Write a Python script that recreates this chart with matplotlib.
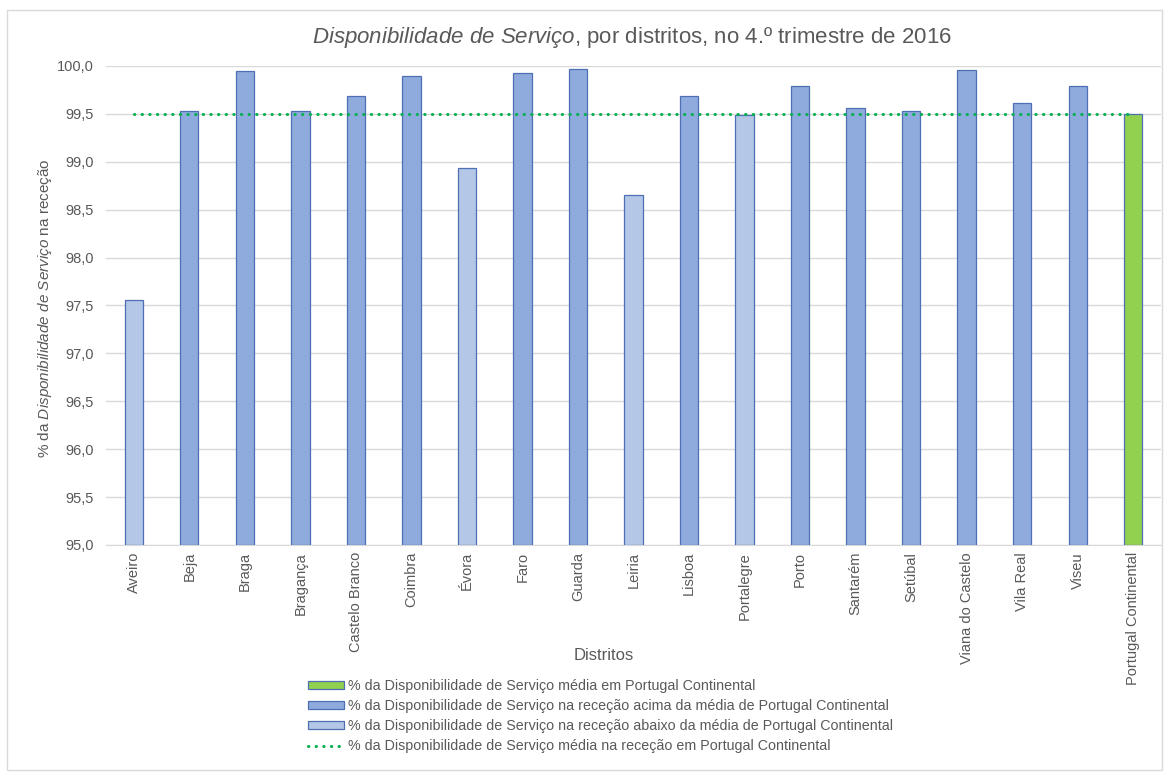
import matplotlib
matplotlib.use("Agg")
import matplotlib.pyplot as plt
from matplotlib.patches import Patch, Rectangle
from matplotlib.lines import Line2D

plt.rcParams["font.family"] = ["Liberation Sans", "DejaVu Sans"]
plt.rcParams["mathtext.fontset"] = "custom"
plt.rcParams["mathtext.rm"] = "Liberation Sans"
plt.rcParams["mathtext.it"] = "Liberation Sans:italic"

distritos = ["Aveiro", "Beja", "Braga", "Bragança", "Castelo Branco", "Coimbra",
             "Évora", "Faro", "Guarda", "Leiria", "Lisboa", "Portalegre", "Porto",
             "Santarém", "Setúbal", "Viana do Castelo", "Vila Real", "Viseu",
             "Portugal Continental"]
disponibilidade = [97.56, 99.53, 99.95, 99.53, 99.69, 99.90, 98.94, 99.93, 99.97,
                   98.65, 99.69, 99.49, 99.79, 99.56, 99.53, 99.96, 99.61, 99.79,
                   99.50]
media_continente = 99.50
y_ticks = [95.0, 95.5, 96.0, 96.5, 97.0, 97.5, 98.0, 98.5, 99.0, 99.5, 100.0]

legenda = ["% da Disponibilidade de Serviço média em Portugal Continental",
           "% da Disponibilidade de Serviço na receção acima da média de Portugal Continental",
           "% da Disponibilidade de Serviço na receção abaixo da média de Portugal Continental",
           "% da Disponibilidade de Serviço média na receção em Portugal Continental"]

cinza = "#595959"
azul = "#8FAADC"
azul_claro = "#B4C7E7"
verde = "#92D050"
contorno = "#4F6FB5"
linha_media = "#00B050"
pontilhado = (0, (0.1, 2.4))

W, H = 1166, 772
fig = plt.figure(figsize=(W / 100, H / 100), dpi=100)
ax = fig.add_axes([106 / W, 1 - 545 / H, 1055 / W, 479 / H])

cores = []
for i, v in enumerate(disponibilidade):
    if i == len(disponibilidade) - 1:
        cores.append(verde)
    elif v > media_continente:
        cores.append(azul)
    else:
        cores.append(azul_claro)

x = range(len(distritos))
ax.bar(x, [v - 95.0 for v in disponibilidade], bottom=95.0, width=0.33,
       color=cores, edgecolor=contorno, linewidth=0.9, zorder=2)
ax.plot(x, [media_continente] * len(distritos), linestyle=pontilhado,
        color=linha_media, linewidth=2.2, dash_capstyle="round", zorder=3)

ax.set_xlim(-0.5, len(distritos) - 0.5)
ax.set_ylim(95.0, 100.0)
ax.set_yticks(y_ticks)
ax.set_yticklabels([f"{t:.1f}".replace(".", ",") for t in y_ticks])
ax.set_xticks(list(x))
ax.set_xticklabels(distritos, rotation=90)
ax.tick_params(axis="both", length=0, labelcolor=cinza)
ax.tick_params(axis="x", pad=5, labelsize=10.5)
ax.tick_params(axis="y", pad=9, labelsize=10.5)
ax.grid(axis="y", color="#D9D9D9", linewidth=1, zorder=0)
for s in ["top", "right", "left"]:
    ax.spines[s].set_visible(False)
ax.spines["bottom"].set_color("#D9D9D9")
ax.spines["bottom"].set_zorder(1)

fig.text(632 / W, 1 - 38 / H,
         r"$\mathit{Disponibilidade\ de\ Serviço}$, por distritos, no 4.º trimestre de 2016",
         ha="center", va="center", fontsize=16, color=cinza)
fig.text(45 / W, 1 - 308 / H,
         r"% da $\mathit{Disponibilidade\ de\ Serviço}$ na receção",
         ha="center", va="center", rotation=90, fontsize=11, color=cinza)
fig.text(604 / W, 1 - 655 / H, "Distritos", ha="center", va="center",
         fontsize=12, color=cinza)

handles = [Patch(facecolor=verde, edgecolor=contorno, linewidth=0.9),
           Patch(facecolor=azul, edgecolor=contorno, linewidth=0.9),
           Patch(facecolor=azul_claro, edgecolor=contorno, linewidth=0.9),
           Line2D([], [], linestyle=pontilhado, color=linha_media,
                  linewidth=2.2, dash_capstyle="round")]
leg = fig.legend(handles, legenda, loc="upper left",
                 bbox_to_anchor=(301 / W, 1 - 672 / H), frameon=False,
                 fontsize=10.3, handlelength=2.5, handleheight=0.5,
                 handletextpad=0.3, labelspacing=0.42, borderpad=0)
for t in leg.get_texts():
    t.set_color(cinza)

# moldura exterior do gráfico
fig.patches.append(Rectangle((7 / W, 1 - 770 / H), 1155 / W, 760 / H,
                             transform=fig.transFigure, fill=False,
                             edgecolor="#D9D9D9", linewidth=1))

fig.savefig("out.png", dpi=100)
